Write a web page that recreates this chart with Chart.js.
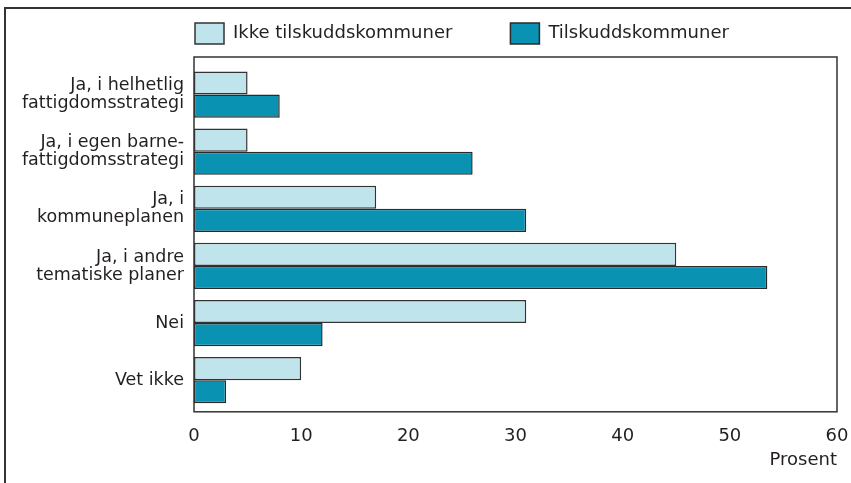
<!DOCTYPE html>
<html>
<head>
<meta charset="utf-8">
<script src="https://cdn.jsdelivr.net/npm/chart.js@4/dist/chart.umd.min.js"></script>
<style>
  html, body { margin: 0; padding: 0; background: #fff; overflow: hidden; }
  .frame {
    position: absolute; left: 4px; top: 7px; width: 845px; height: 474px;
    border-left: 2px solid #333; border-top: 2px solid #333;
  }
  .chart-box { position: absolute; left: 0; top: 0; width: 851px; height: 483px; }
</style>
</head>
<body>
<div class="frame"></div>
<div class="chart-box"><canvas id="planChart"></canvas></div>
<script>
const categories = [
  ["Ja, i helhetlig", "fattigdomsstrategi"],
  ["Ja, i egen barne-", "fattigdomsstrategi"],
  ["Ja, i", "kommuneplanen"],
  ["Ja, i andre", "tematiske planer"],
  "Nei",
  "Vet ikke"
];
const ikkeTilskudd = [5, 5, 17, 45, 31, 10];
const tilskudd = [8, 26, 31, 53.5, 12, 3];
const xTicks = [0, 10, 20, 30, 40, 50, 60];

const FONT = "'DejaVu Sans', 'Open Sans', sans-serif";
const TEXT = "#231f20";
const LEGEND_GAP = 58;

// border round the plot area (a little roomier above the first group)
const plotFrame = {
  id: "plotFrame",
  afterDatasetsDraw(chart) {
    const a = chart.chartArea;
    const ctx = chart.ctx;
    const top = a.top - 9;
    const bottom = a.bottom + 3;
    ctx.save();
    ctx.strokeStyle = "#333";
    ctx.lineWidth = 1.5;
    ctx.strokeRect(a.left, top, a.right - a.left, bottom - top);
    ctx.restore();
  }
};

// legend sits above the plot, starting at its left edge
const legendPlace = {
  id: "legendPlace",
  beforeUpdate(chart) {
    const lg = chart.legend;
    if (lg && !lg._fitPatched) {
      const fit = lg.fit;
      lg.fit = function () {
        fit.call(this);
        this.height = 58;
      };
      lg._fitPatched = true;
    }
  },
  afterLayout(chart) {
    const lg = chart.legend;
    lg.left = 195 - LEGEND_GAP;
    lg.top = 23 - LEGEND_GAP;
  }
};

new Chart(document.getElementById("planChart"), {
  type: "bar",
  data: {
    labels: categories,
    datasets: [
      {
        label: "Ikke tilskuddskommuner",
        data: ikkeTilskudd,
        backgroundColor: "#c0e4ec",
        borderColor: "#333",
        borderWidth: 1.5,
        borderSkipped: false
      },
      {
        label: "Tilskuddskommuner",
        data: tilskudd,
        backgroundColor: "#0a92b2",
        borderColor: "#2a2a2a",
        borderWidth: 1.5,
        borderSkipped: false
      }
    ]
  },
  options: {
    indexAxis: "y",
    responsive: true,
    maintainAspectRatio: false,
    animation: false,
    layout: { padding: { left: 5, top: 8, right: 14, bottom: 12 } },
    datasets: { bar: { categoryPercentage: 0.81, barPercentage: 1.0 } },
    scales: {
      x: {
        min: 0,
        max: 60,
        afterBuildTicks(axis) { axis.ticks = xTicks.map(v => ({ value: v })); },
        afterFit(axis) { axis.paddingLeft = 0; axis.paddingRight = 0; },
        grid: { display: false, drawTicks: false },
        border: { display: false },
        ticks: { padding: 17, color: TEXT, font: { family: FONT, size: 18 } },
        title: {
          display: true, text: "Prosent", align: "end", color: TEXT,
          font: { family: FONT, size: 18 }, padding: { top: -15, bottom: 0 }
        }
      },
      y: {
        afterFit(axis) { axis.width = 189; },
        grid: { display: false, drawTicks: false },
        border: { display: false },
        ticks: { padding: 10, color: TEXT, font: { family: FONT, size: 17.5, lineHeight: 1.03 } }
      }
    },
    plugins: {
      legend: {
        position: "top",
        align: "start",
        labels: {
          boxWidth: 29,
          boxHeight: 21,
          padding: LEGEND_GAP,
          color: TEXT,
          font: { family: FONT, size: 18 }
        }
      },
      tooltip: { enabled: false }
    }
  },
  plugins: [plotFrame, legendPlace]
});
</script>
</body>
</html>
